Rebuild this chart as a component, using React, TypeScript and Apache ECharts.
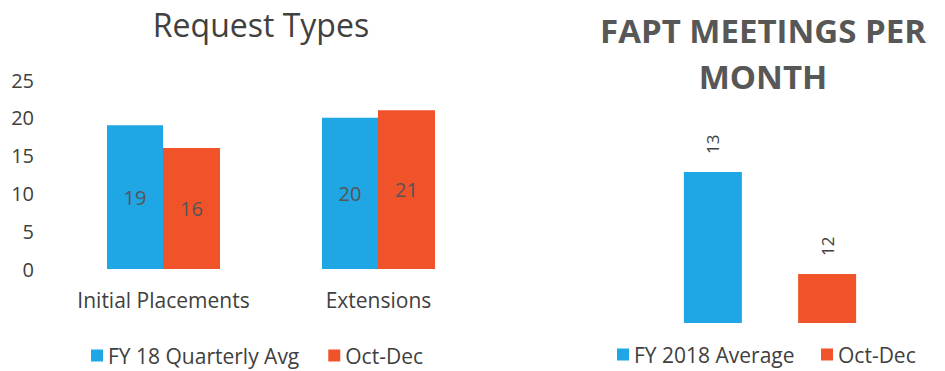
import React, { useEffect, useRef } from "react";
import * as echarts from "echarts";

const leftCategories = ["Initial Placements", "Extensions"];
const leftSeriesNames = ["FY 18 Quarterly Avg", "Oct-Dec"];
const fyQuarterlyAvg = [19, 20];
const octDecRequests = [16, 21];
const leftTicks = [0, 5, 10, 15, 20, 25];

const rightCategories = ["Meetings"];
const rightSeriesNames = ["FY 2018 Average", "Oct-Dec"];
const fy2018Average = [13];
const octDecMeetings = [12];

const BLUE = "#1ea7e4";
const ORANGE = "#f0532a";
const TEXT = "#404040";
const FONT = "'Open Sans', Lato, sans-serif";

export default function App() {
  const ref = useRef<HTMLDivElement>(null);
  useEffect(() => {
    if (!ref.current) return;
    const chart = echarts.init(ref.current, undefined, { renderer: "svg" });
    const legendText = { fontFamily: FONT, fontSize: 21, color: TEXT };
    chart.setOption({
      animation: false,
      textStyle: { fontFamily: FONT, color: TEXT },
      title: [
        {
          text: "Request Types",
          left: 256,
          textAlign: "center",
          top: 3,
          textStyle: { fontFamily: FONT, fontSize: 32, fontWeight: "normal", color: TEXT },
        },
        {
          text: "FAPT MEETINGS PER\nMONTH",
          left: 758,
          textAlign: "center",
          top: 2,
          textStyle: {
            fontFamily: FONT,
            fontSize: 33,
            fontWeight: "bold",
            color: "#575757",
            lineHeight: 46,
          },
        },
      ],
      legend: [
        {
          data: leftSeriesNames,
          left: 86,
          top: 340,
          itemWidth: 12,
          itemHeight: 12,
          itemGap: 29,
          icon: "rect",
          textStyle: legendText,
        },
        {
          data: rightSeriesNames.slice(0, 1),
          left: 612,
          top: 339,
          itemWidth: 12,
          itemHeight: 12,
          icon: "rect",
          textStyle: legendText,
        },
        {
          data: [{ name: "Oct-Dec", itemStyle: { color: ORANGE } }],
          left: 816,
          top: 339,
          itemWidth: 12,
          itemHeight: 12,
          icon: "rect",
          textStyle: legendText,
        },
      ],
      grid: [
        { left: 56, top: 80, width: 430, height: 189 },
        { left: 680, top: 121, width: 180, height: 202 },
      ],
      xAxis: [
        {
          type: "category",
          gridIndex: 0,
          data: leftCategories,
          axisLine: { show: false },
          axisTick: { show: false },
          axisLabel: { fontFamily: FONT, fontSize: 21, color: TEXT, margin: 20, interval: 0 },
        },
        {
          type: "category",
          gridIndex: 1,
          data: rightCategories,
          show: false,
        },
      ],
      yAxis: [
        {
          type: "value",
          gridIndex: 0,
          min: leftTicks[0],
          max: leftTicks[leftTicks.length - 1],
          interval: 5,
          axisLine: { show: false },
          axisTick: { show: false },
          splitLine: { show: false },
          axisLabel: { fontFamily: FONT, fontSize: 20, color: TEXT, margin: 22 },
        },
        {
          type: "value",
          gridIndex: 1,
          min: 11.52,
          max: 13.5,
          show: false,
          splitLine: { show: false },
        },
      ],
      series: [
        {
          name: leftSeriesNames[0],
          type: "bar",
          xAxisIndex: 0,
          yAxisIndex: 0,
          data: fyQuarterlyAvg,
          barWidth: 56,
          barGap: "0%",
          itemStyle: { color: BLUE },
          label: { show: true, position: "inside", fontFamily: FONT, fontSize: 20, color: "#555555" },
        },
        {
          name: leftSeriesNames[1],
          type: "bar",
          xAxisIndex: 0,
          yAxisIndex: 0,
          data: octDecRequests,
          barWidth: 57,
          barGap: "0%",
          itemStyle: { color: ORANGE },
          label: { show: true, position: "inside", fontFamily: FONT, fontSize: 20, color: "#555555" },
        },
        {
          name: rightSeriesNames[0],
          type: "bar",
          xAxisIndex: 1,
          yAxisIndex: 1,
          data: fy2018Average,
          barWidth: 58,
          barGap: "97%",
          itemStyle: { color: BLUE },
          label: {
            show: true,
            position: "top",
            rotate: 90,
            align: "left",
            verticalAlign: "middle",
            distance: 18,
            fontFamily: FONT,
            fontSize: 17,
            color: TEXT,
          },
        },
        {
          name: rightSeriesNames[1],
          type: "bar",
          xAxisIndex: 1,
          yAxisIndex: 1,
          data: octDecMeetings,
          barWidth: 58,
          barGap: "97%",
          itemStyle: { color: ORANGE },
          label: {
            show: true,
            position: "top",
            rotate: 90,
            align: "left",
            verticalAlign: "middle",
            distance: 18,
            fontFamily: FONT,
            fontSize: 17,
            color: TEXT,
          },
        },
      ],
    });
    return () => chart.dispose();
  }, []);
  return (
    <div
      ref={ref}
      style={{ position: "fixed", left: 0, top: 0, width: 945, height: 371, background: "#fff" }}
    />
  );
}
